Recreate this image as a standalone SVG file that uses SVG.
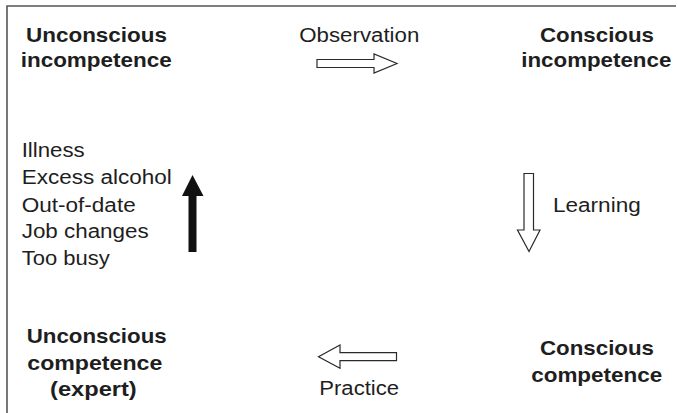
<svg xmlns="http://www.w3.org/2000/svg" width="678" height="413" viewBox="0 0 678 413">
<style>
text{font-family:"Liberation Sans",Arial,Helvetica,sans-serif;fill:#1e1e1e}
.b{font-weight:bold;font-size:21px;text-anchor:middle}
.r{font-size:20px}
.open{fill:#fff;stroke:#2a2a2a;stroke-width:1.2}
.solid{fill:#111;stroke:none}
</style>
<rect width="678" height="413" fill="#fff"/>
<path d="M7,413 V6 H676" fill="none" stroke="#555" stroke-width="1.6"/>
<g id="unconscious-incompetence">
<text class="b" x="96.5" y="41.7" textLength="141" lengthAdjust="spacingAndGlyphs">Unconscious</text>
<text class="b" x="96.2" y="66.7" textLength="151" lengthAdjust="spacingAndGlyphs">incompetence</text>
</g>
<g id="conscious-incompetence">
<text class="b" x="597" y="41.7" textLength="114" lengthAdjust="spacingAndGlyphs">Conscious</text>
<text class="b" x="596.3" y="66.7" textLength="150" lengthAdjust="spacingAndGlyphs">incompetence</text>
</g>
<g id="conscious-competence">
<text class="b" x="597" y="355" textLength="114" lengthAdjust="spacingAndGlyphs">Conscious</text>
<text class="b" x="596.7" y="381.5" textLength="131" lengthAdjust="spacingAndGlyphs">competence</text>
</g>
<g id="unconscious-competence">
<text class="b" x="96.7" y="343.3" textLength="140" lengthAdjust="spacingAndGlyphs">Unconscious</text>
<text class="b" x="94.8" y="370" textLength="135" lengthAdjust="spacingAndGlyphs">competence</text>
<text class="b" x="93.4" y="396" textLength="86.7" lengthAdjust="spacingAndGlyphs">(expert)</text>
</g>
<g id="causes">
<text class="r" x="21.7" y="156.7" textLength="63" lengthAdjust="spacingAndGlyphs">Illness</text>
<text class="r" x="21.7" y="184" textLength="150" lengthAdjust="spacingAndGlyphs">Excess alcohol</text>
<text class="r" x="21.7" y="211.5" textLength="114" lengthAdjust="spacingAndGlyphs">Out-of-date</text>
<text class="r" x="21.7" y="238.3" textLength="127" lengthAdjust="spacingAndGlyphs">Job changes</text>
<text class="r" x="21.7" y="265" textLength="88" lengthAdjust="spacingAndGlyphs">Too busy</text>
</g>
<g id="connectors">
<polygon class="open" points="317,59.5 374,59.5 374,54 397,63.5 374,73 374,67.5 317,67.5"/>
<text class="r" x="299.3" y="41.5" textLength="120" lengthAdjust="spacingAndGlyphs">Observation</text>
<polygon class="open" points="524,173.5 533.5,173.5 533.5,230 540,230 529,251.5 517.5,230 524,230"/>
<text class="r" x="553" y="211.7" textLength="87.7" lengthAdjust="spacingAndGlyphs">Learning</text>
<polygon class="open" points="396.5,352.7 396.5,360.7 340,360.7 340,368.3 318.5,356.7 340,345 340,352.7"/>
<text class="r" x="319.3" y="395" textLength="79.7" lengthAdjust="spacingAndGlyphs">Practice</text>
<polygon class="solid" points="188.5,252 196.5,252 196.5,196 203.5,196 192.5,175 182,196 188.5,196"/>
</g>
</svg>
